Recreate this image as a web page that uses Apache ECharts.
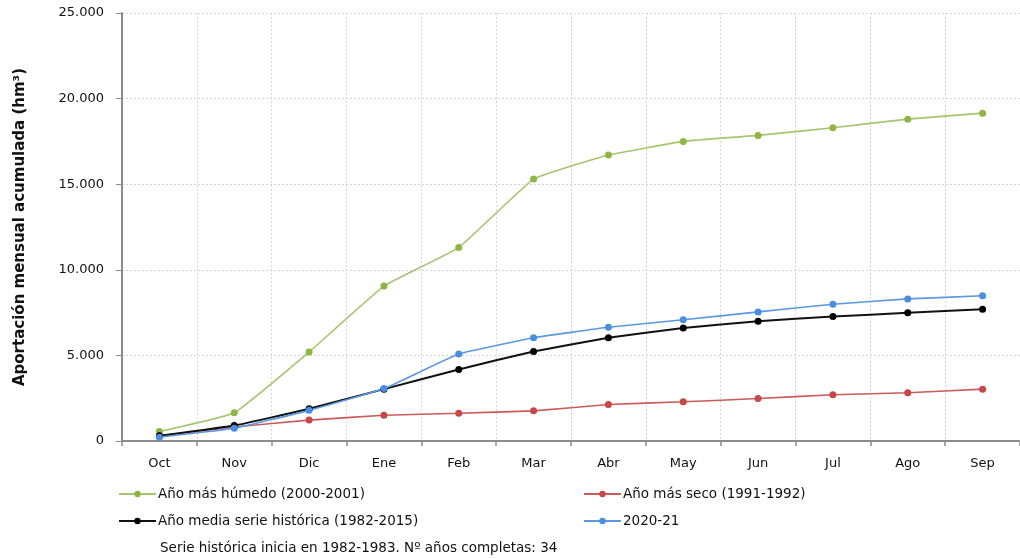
<!DOCTYPE html>
<html><head><meta charset="utf-8">
<script src="https://cdn.jsdelivr.net/npm/echarts@6/dist/echarts.min.js"></script>
<style>html,body{margin:0;padding:0;background:#fff}#c{width:1020px;height:558px}</style>
</head><body><div id="c"></div>
<script>
const months = ['Oct','Nov','Dic','Ene','Feb','Mar','Abr','May','Jun','Jul','Ago','Sep'];
const humedo = [550, 1650, 5200, 9050, 11300, 15300, 16700, 17500, 17850, 18300, 18800, 19150];
const seco = [300, 820, 1220, 1500, 1620, 1760, 2130, 2290, 2480, 2700, 2820, 3030];
const media = [300, 900, 1880, 3030, 4180, 5230, 6030, 6600, 7000, 7270, 7490, 7700];
const actual = [220, 740, 1790, 3060, 5080, 6030, 6640, 7080, 7540, 7990, 8300, 8480];
const yTicks = [0, 5000, 10000, 15000, 20000, 25000];
const names = ['Año más húmedo (2000-2001)', 'Año más seco (1991-1992)', 'Año media serie histórica (1982-2015)', '2020-21'];
const note = 'Serie histórica inicia en 1982-1983. Nº años completas: 34';

const FONT = 'DejaVu Sans';
function fmt(v){ return v === 0 ? '0' : String(v).replace(/\B(?=(\d{3})+(?!\d))/g, '.'); }
function mk(name, data, lineColor, dotColor, w){
  return {name, type:'line', data, symbol:'circle', symbolSize:7, smooth:0.1,
    lineStyle:{color:lineColor, width:w}, itemStyle:{color:dotColor}, emphasis:{disabled:true}};
}
function leg(name, left, top){
  return {data:[name], left, top, itemWidth:37, itemHeight:8, itemGap:0, padding:0,
    textStyle:{fontFamily:FONT, fontSize:13.5, color:'#111', padding:[0,0,0,-3]}};
}
const chart = echarts.init(document.getElementById('c'));
chart.setOption({
  animation:false,
  grid:{left:122, right:-3, top:13, bottom:117, containLabel:false},
  xAxis:{type:'category', data:months, boundaryGap:true,
    axisLine:{lineStyle:{color:'#8c8c8c', width:2}},
    axisTick:{show:true, length:5, lineStyle:{color:'#8c8c8c', width:1.5}},
    axisLabel:{fontFamily:FONT, fontSize:13, color:'#111', margin:16},
    splitLine:{show:true, lineStyle:{color:'#d6d6d6', type:[2,2], width:1}}},
  yAxis:{type:'value', min:0, max:25000, interval:5000,
    name:'Aportación mensual acumulada (hm³)', nameLocation:'middle', nameGap:94, nameRotate:90,
    nameTextStyle:{fontFamily:FONT, fontSize:15, fontWeight:'bold', color:'#111'},
    axisLine:{show:true, lineStyle:{color:'#8c8c8c', width:2}},
    axisTick:{show:true, length:6, lineStyle:{color:'#8c8c8c'}},
    axisLabel:{fontFamily:FONT, fontSize:13, color:'#111', margin:18, formatter:fmt},
    splitLine:{show:true, lineStyle:{color:'#d6d6d6', type:[2,2], width:1}}},
  legend:[leg(names[0],118,487), leg(names[1],583,487), leg(names[2],118,514), leg(names[3],583,514)],
  graphic:[{type:'text', left:160, top:541, style:{text:note, fontFamily:FONT, fontSize:13.5, fill:'#111'}}],
  series:[
    mk(names[0], humedo, '#a5c56e', '#8db642', 1.6),
    mk(names[1], seco, '#cc5a5a', '#c84848', 1.6),
    mk(names[2], media, '#111111', '#000000', 2),
    mk(names[3], actual, '#5b98e0', '#4a8ee0', 1.6)
  ]
});
</script></body></html>
